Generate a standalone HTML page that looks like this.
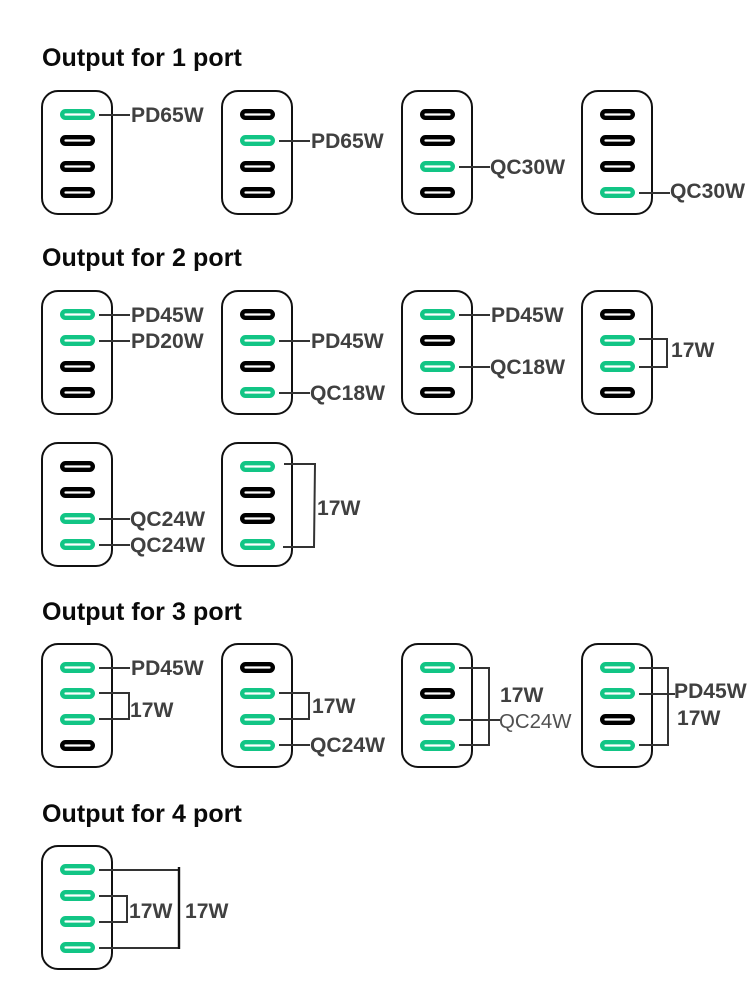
<!DOCTYPE html>
<html><head><meta charset="utf-8"><style>
html,body{margin:0;padding:0;background:#fff}
svg{display:block}
text{font-family:"Liberation Sans",sans-serif;font-weight:bold;font-size:21.1px;fill:#404040}
.h{font-size:25px;fill:#0a0a0a;letter-spacing:.08px}
.t{font-weight:normal;font-size:20.4px;fill:#505050}
.c{fill:#fff;stroke:#111;stroke-width:2}
.k,.g{fill:#fff;stroke-width:4.4}
.k{stroke:#000}.g{stroke:#12c585}
.l{stroke:#333;stroke-width:2;fill:none}
</style></head><body>
<svg width="750" height="1000" viewBox="0 0 750 1000" xmlns="http://www.w3.org/2000/svg">
<defs>
<rect id="c" class="c" x="0" y="0" width="70" height="123" rx="16"/>
<rect id="k" class="k" x="20.2" y="-3.3" width="30.6" height="6.6" rx="3.3"/>
<rect id="g" class="g" x="20.2" y="-3.3" width="30.6" height="6.6" rx="3.3"/>
</defs>

<text class="h" x="42" y="66">Output for 1 port</text>
<text class="h" x="42" y="266">Output for 2 port</text>
<text class="h" x="42" y="620">Output for 3 port</text>
<text class="h" x="42" y="822">Output for 4 port</text>

<!-- Row 1 -->
<g transform="translate(42,91)"><use href="#c"/><use href="#g" y="23.5"/><use href="#k" y="49.5"/><use href="#k" y="75.5"/><use href="#k" y="101.5"/></g>
<g transform="translate(222,91)"><use href="#c"/><use href="#k" y="23.5"/><use href="#g" y="49.5"/><use href="#k" y="75.5"/><use href="#k" y="101.5"/></g>
<g transform="translate(402,91)"><use href="#c"/><use href="#k" y="23.5"/><use href="#k" y="49.5"/><use href="#g" y="75.5"/><use href="#k" y="101.5"/></g>
<g transform="translate(582,91)"><use href="#c"/><use href="#k" y="23.5"/><use href="#k" y="49.5"/><use href="#k" y="75.5"/><use href="#g" y="101.5"/></g>
<path class="l" d="M99 115H130M279 141H310M459 167H490M639 193H670"/>
<text x="131" y="122">PD65W</text>
<text x="311" y="148">PD65W</text>
<text x="490" y="174">QC30W</text>
<text x="670" y="198">QC30W</text>

<!-- Row 2 -->
<g transform="translate(42,291)"><use href="#c"/><use href="#g" y="23.5"/><use href="#g" y="49.5"/><use href="#k" y="75.5"/><use href="#k" y="101.5"/></g>
<g transform="translate(222,291)"><use href="#c"/><use href="#k" y="23.5"/><use href="#g" y="49.5"/><use href="#k" y="75.5"/><use href="#g" y="101.5"/></g>
<g transform="translate(402,291)"><use href="#c"/><use href="#g" y="23.5"/><use href="#k" y="49.5"/><use href="#g" y="75.5"/><use href="#k" y="101.5"/></g>
<g transform="translate(582,291)"><use href="#c"/><use href="#k" y="23.5"/><use href="#g" y="49.5"/><use href="#g" y="75.5"/><use href="#k" y="101.5"/></g>
<path class="l" d="M99 315H130M99 341H130M279 341H310M279 393H310M459 315H490M459 367H490M639 339H667V367H639"/>
<text x="131" y="322">PD45W</text>
<text x="131" y="348">PD20W</text>
<text x="311" y="348">PD45W</text>
<text x="310" y="400">QC18W</text>
<text x="491" y="322">PD45W</text>
<text x="490" y="374">QC18W</text>
<text x="671" y="357">17W</text>

<!-- Row 3 -->
<g transform="translate(42,443)"><use href="#c"/><use href="#k" y="23.5"/><use href="#k" y="49.5"/><use href="#g" y="75.5"/><use href="#g" y="101.5"/></g>
<g transform="translate(222,443)"><use href="#c"/><use href="#g" y="23.5"/><use href="#k" y="49.5"/><use href="#k" y="75.5"/><use href="#g" y="101.5"/></g>
<path class="l" d="M99 519H130M99 545H130M284 464H315L314 547H283"/>
<text x="130" y="526">QC24W</text>
<text x="130" y="552">QC24W</text>
<text x="317" y="515">17W</text>

<!-- Row 4 -->
<g transform="translate(42,644)"><use href="#c"/><use href="#g" y="23.5"/><use href="#g" y="49.5"/><use href="#g" y="75.5"/><use href="#k" y="101.5"/></g>
<g transform="translate(222,644)"><use href="#c"/><use href="#k" y="23.5"/><use href="#g" y="49.5"/><use href="#g" y="75.5"/><use href="#g" y="101.5"/></g>
<g transform="translate(402,644)"><use href="#c"/><use href="#g" y="23.5"/><use href="#k" y="49.5"/><use href="#g" y="75.5"/><use href="#g" y="101.5"/></g>
<g transform="translate(582,644)"><use href="#c"/><use href="#g" y="23.5"/><use href="#g" y="49.5"/><use href="#k" y="75.5"/><use href="#g" y="101.5"/></g>
<path class="l" d="M99 668H130M99 693H129V719H99M279 693H309V719H279M279 745H310M459 668H489V745H459M459 720H500M639 668H668V745H639M639 694H675"/>
<text x="131" y="675">PD45W</text>
<text x="130" y="717">17W</text>
<text x="312" y="713">17W</text>
<text x="310" y="752">QC24W</text>
<text x="500" y="702">17W</text>
<text class="t" x="499" y="728">QC24W</text>
<text x="674" y="698">PD45W</text>
<text x="677" y="725">17W</text>

<!-- Row 5 -->
<g transform="translate(42,846)"><use href="#c"/><use href="#g" y="23.5"/><use href="#g" y="49.5"/><use href="#g" y="75.5"/><use href="#g" y="101.5"/></g>
<path class="l" d="M99 870H179M99 896H127V922H99M99 948H179"/>
<path d="M179 867V949" stroke="#111" stroke-width="2.4" fill="none"/>
<text x="129" y="918">17W</text>
<text x="185" y="918">17W</text>
</svg>
</body></html>
